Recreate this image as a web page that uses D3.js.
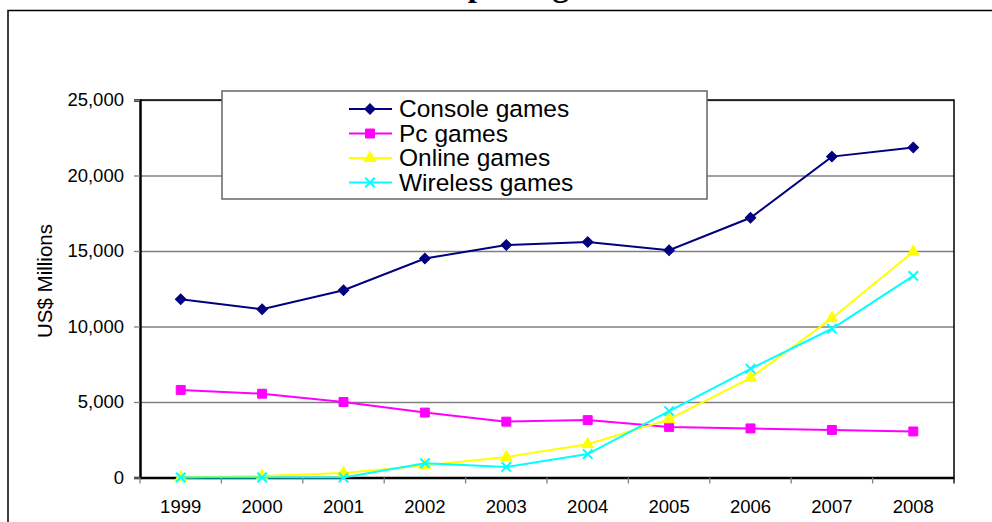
<!DOCTYPE html>
<html>
<head>
<meta charset="utf-8">
<script src="https://cdn.jsdelivr.net/npm/d3@7"></script>
<style>
  body { margin: 0; background: #fff; }
  svg { display: block; font-family: "Liberation Sans", Arial, sans-serif; }
</style>
</head>
<body>
<div id="chart"></div>
<script>
var years = ["1999","2000","2001","2002","2003","2004","2005","2006","2007","2008"];
var consoleGames = [11800, 11150, 12400, 14500, 15400, 15600, 15050, 17200, 21250, 21850];
var pcGames = [5800, 5550, 5000, 4300, 3700, 3800, 3350, 3250, 3150, 3050];
var onlineGames = [0, 100, 300, 800, 1350, 2200, 3850, 6600, 10550, 14950];
var wirelessGames = [0, 0, 0, 950, 700, 1550, 4400, 7200, 9850, 13350];
var yTicks = [0, 5000, 10000, 15000, 20000, 25000];
var seriesNames = ["Console games", "Pc games", "Online games", "Wireless games"];

function init(){
    var w = 992, h = 522;
    var left = 140, right = 954, top = 100, bottom = 477.5;

    var series = [
        {name: seriesNames[0], values: consoleGames, color: "#000080", symbol: d3.symbolSquare, size: 56, rot: 45},
        {name: seriesNames[1], values: pcGames, color: "#ff00ff", symbol: d3.symbolSquare, size: 80, rot: 0},
        {name: seriesNames[2], values: onlineGames, color: "#ffff00", symbol: d3.symbolTriangle, size: 60, rot: 0},
        {name: seriesNames[3], values: wirelessGames, color: "#00ffff", symbol: d3.symbolX, size: 60, rot: 0}
    ];

    var svg = d3.select("#chart").append("svg")
        .attr("width", w)
        .attr("height", h);

    // chart frame (cut off at right and bottom)
    svg.append("rect")
        .attr("x", 8).attr("y", 10.5)
        .attr("width", 1100).attr("height", 600)
        .attr("fill", "none").attr("stroke", "#000").attr("stroke-width", 1.5);

    // title, mostly cut off at top
    svg.append("text")
        .attr("x", 400).attr("y", -4)
        .attr("font-family", "'Liberation Serif', 'Times New Roman', serif")
        .attr("font-weight", "bold")
        .attr("font-size", 33)
        .text("Computer games");

    var xScale = d3.scaleBand().domain(years).range([left, right]);
    var yScale = d3.scaleLinear().domain([0, 25000]).range([bottom, top]);

    // gridlines
    svg.append("g")
        .attr("transform", `translate(${left},0)`)
        .call(d3.axisLeft(yScale).tickValues(yTicks).tickSize(-(right - left)).tickFormat(""))
        .call(g => g.select(".domain").remove())
        .call(g => g.selectAll("line").attr("stroke", "#808080").attr("stroke-width", 1.3));

    // plot border top/right
    svg.append("path")
        .attr("d", `M${left},${top}H${right}V${bottom}`)
        .attr("fill", "none").attr("stroke", "#000").attr("stroke-width", 1.5);

    // y axis
    svg.append("g")
        .attr("transform", `translate(${left},0)`)
        .call(d3.axisLeft(yScale).tickValues(yTicks).tickSize(6).tickPadding(10).tickFormat(d3.format(",")))
        .call(g => g.select(".domain").attr("stroke", "#000").attr("stroke-width", 2.5))
        .call(g => g.selectAll(".tick line").attr("stroke", "#808080").attr("stroke-width", 1.3))
        .call(g => g.selectAll("text").attr("font-size", 18.5).attr("fill", "#000")
            .attr("font-family", "'Liberation Sans', Arial, sans-serif"));

    // x axis
    var xAxisG = svg.append("g")
        .attr("transform", `translate(0,${bottom})`)
        .call(d3.axisBottom(xScale).tickSize(0).tickPadding(22))
        .call(g => g.select(".domain").attr("stroke", "#000").attr("stroke-width", 2.5))
        .call(g => g.selectAll("text").attr("font-size", 18.5).attr("fill", "#000")
            .attr("font-family", "'Liberation Sans', Arial, sans-serif"));

    var boundaries = years.map(d => xScale(d)).concat([xScale.range()[1]]);
    xAxisG.selectAll(".bound")
        .data(boundaries)
        .enter().append("line")
        .attr("x1", d => d).attr("x2", d => d)
        .attr("y1", 0).attr("y2", 6)
        .attr("stroke", (d, i) => i === boundaries.length - 1 ? "#000" : "#808080")
        .attr("stroke-width", 1.3);

    // y axis title
    svg.append("text")
        .attr("transform", "translate(52,281) rotate(-90)")
        .attr("text-anchor", "middle")
        .attr("font-size", 20.5)
        .text("US$ Millions");

    var line = d3.line()
        .x((d, i) => xScale(years[i]) + xScale.bandwidth() / 2)
        .y(d => yScale(d));

    function drawMarker(sel, s){
        sel.attr("d", d3.symbol().type(s.symbol).size(s.size))
            .attr("fill", s.symbol === d3.symbolX ? "none" : s.color)
            .attr("stroke", s.color)
            .attr("stroke-width", s.symbol === d3.symbolX ? 2 : 1);
    }

    series.forEach(function(s){
        svg.append("path")
            .attr("d", line(s.values))
            .attr("fill", "none")
            .attr("stroke", s.color)
            .attr("stroke-width", 2);

        svg.selectAll(null)
            .data(s.values)
            .enter().append("path")
            .attr("transform", (d, i) => `translate(${xScale(years[i]) + xScale.bandwidth() / 2},${yScale(d)}) rotate(${s.rot})`)
            .call(drawMarker, s);
    });

    // legend
    var lg = svg.append("g");
    lg.append("rect")
        .attr("x", 222).attr("y", 91)
        .attr("width", 485).attr("height", 108)
        .attr("fill", "#fff").attr("stroke", "#666").attr("stroke-width", 1.5);

    series.forEach(function(s, i){
        var cy = 109 + i * 24.5;
        lg.append("line")
            .attr("x1", 349).attr("x2", 392)
            .attr("y1", cy).attr("y2", cy)
            .attr("stroke", s.color).attr("stroke-width", 2);
        lg.append("path")
            .attr("transform", `translate(370,${cy}) rotate(${s.rot})`)
            .call(drawMarker, s);
        lg.append("text")
            .attr("x", 399).attr("y", cy + 8)
            .attr("font-size", 24.5)
            .text(s.name);
    });
}
window.onload = init;
</script>
</body>
</html>
